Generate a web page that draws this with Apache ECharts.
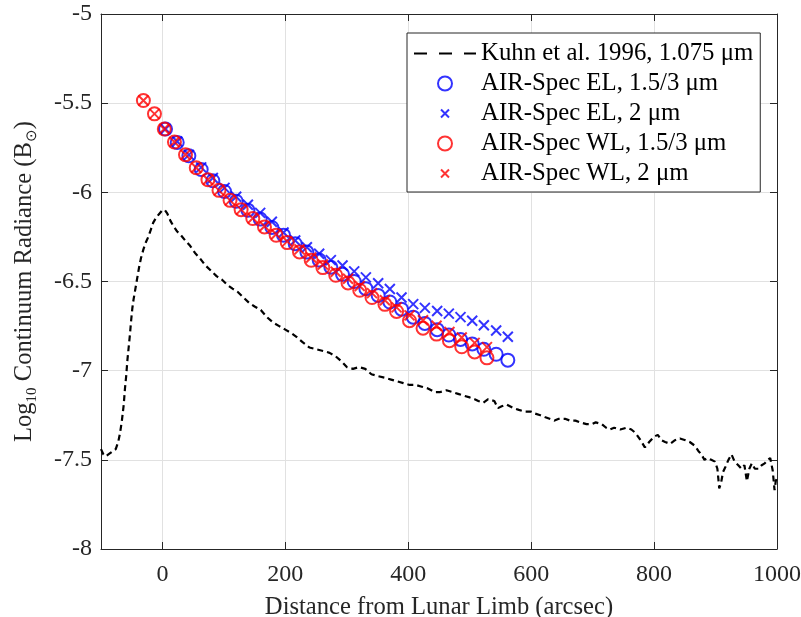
<!DOCTYPE html>
<html>
<head>
<meta charset="utf-8">
<script src="https://cdn.jsdelivr.net/npm/echarts@6/dist/echarts.min.js"></script>
<style>
html,body{margin:0;padding:0;background:#fff;}
#chart{width:801px;height:617px;}
</style>
</head>
<body>
<div id="chart"></div>
<script>
// ---------- DATA ----------
var xTicks = [0, 200, 400, 600, 800, 1000];
var seriesNames = [
  'Kuhn et al. 1996, 1.075 \u03bcm',
  'AIR-Spec EL, 1.5/3 \u03bcm',
  'AIR-Spec EL, 2 \u03bcm',
  'AIR-Spec WL, 1.5/3 \u03bcm',
  'AIR-Spec WL, 2 \u03bcm'
];

var kuhnX = [-100,-96,-92,-88,-84,-80,-76,-72,-69,-66,-63,-61,-59,-57,-55,-53,-51,-49,-47,-44,-41,-38,-35,-31,-27,-23,-19,-15,-10,-5,0,4,8,13,18,24,30,37,45,53,61,70,79,88,97,106,114,123,132,141,150,160,170,180,190,200,210,218,228,239,250,262,272,282,292,300,310,320,330,340,350,362,372,382,392,402,412,422,432,443,452,462,472,481,490,500,508,514,522,530,540,546,552,560,571,580,590,600,606,615,622,630,638,645,655,663,672,680,690,698,705,715,722,728,735,745,755,763,770,778,785,792,800,806,812,818,826,834,842,851,858,866,872,877,882,887,893,899,903,906,909,912,916,921,926,931,937,942,947,951,955,959,964,970,975,980,985,989,993,996,998,1000];
var kuhnY = [-7.44,-7.47,-7.48,-7.47,-7.46,-7.45,-7.44,-7.40,-7.35,-7.28,-7.19,-7.10,-7.03,-6.94,-6.87,-6.80,-6.72,-6.65,-6.60,-6.54,-6.48,-6.42,-6.37,-6.32,-6.28,-6.25,-6.21,-6.17,-6.14,-6.12,-6.10,-6.10,-6.12,-6.16,-6.19,-6.22,-6.24,-6.27,-6.30,-6.34,-6.37,-6.41,-6.44,-6.47,-6.49,-6.52,-6.54,-6.56,-6.59,-6.62,-6.64,-6.66,-6.70,-6.73,-6.75,-6.77,-6.79,-6.81,-6.84,-6.87,-6.88,-6.89,-6.90,-6.92,-6.95,-6.98,-6.99,-6.98,-6.99,-7.02,-7.03,-7.04,-7.05,-7.06,-7.07,-7.08,-7.08,-7.09,-7.10,-7.12,-7.12,-7.11,-7.12,-7.13,-7.14,-7.15,-7.16,-7.17,-7.18,-7.16,-7.17,-7.21,-7.20,-7.19,-7.21,-7.22,-7.23,-7.23,-7.24,-7.25,-7.26,-7.27,-7.28,-7.27,-7.27,-7.28,-7.28,-7.29,-7.30,-7.30,-7.29,-7.30,-7.32,-7.33,-7.32,-7.33,-7.32,-7.33,-7.35,-7.39,-7.43,-7.40,-7.37,-7.36,-7.39,-7.40,-7.41,-7.39,-7.38,-7.39,-7.40,-7.42,-7.45,-7.47,-7.50,-7.49,-7.50,-7.51,-7.55,-7.66,-7.63,-7.57,-7.54,-7.50,-7.47,-7.51,-7.53,-7.55,-7.53,-7.62,-7.55,-7.52,-7.55,-7.55,-7.53,-7.52,-7.50,-7.49,-7.56,-7.67,-7.62,-7.60];

var elX = [5,24,43,63,82,101,120,139,159,178,197,216,235,255,274,293,312,331,351,370,389,408,427,447,466,485,504,523,543,562];
var elCircleY = [-5.645,-5.72,-5.795,-5.872,-5.935,-5.995,-6.05,-6.10,-6.15,-6.197,-6.24,-6.288,-6.335,-6.38,-6.42,-6.46,-6.50,-6.54,-6.578,-6.615,-6.655,-6.70,-6.735,-6.77,-6.80,-6.825,-6.85,-6.88,-6.908,-6.941];
var elCrossY = [-5.645,-5.715,-5.79,-5.86,-5.92,-5.975,-6.025,-6.07,-6.115,-6.165,-6.225,-6.27,-6.308,-6.344,-6.38,-6.41,-6.443,-6.477,-6.51,-6.542,-6.59,-6.627,-6.648,-6.665,-6.68,-6.70,-6.72,-6.745,-6.775,-6.81];

var wlX = [-31,-13,3,19.5,37.5,55,74,92,110,128,147,166,185,203,223,242,261,282,302,321,341,362,381,402,424,446,467,487,508,528];
var wlCircleY = [-5.485,-5.56,-5.645,-5.718,-5.789,-5.862,-5.929,-5.989,-6.045,-6.097,-6.147,-6.194,-6.241,-6.282,-6.334,-6.381,-6.422,-6.465,-6.508,-6.549,-6.59,-6.628,-6.668,-6.72,-6.762,-6.795,-6.832,-6.866,-6.895,-6.928];
var wlCrossY = [-5.485,-5.56,-5.645,-5.718,-5.789,-5.862,-5.929,-5.989,-6.045,-6.097,-6.145,-6.19,-6.235,-6.275,-6.32,-6.365,-6.405,-6.445,-6.485,-6.525,-6.565,-6.605,-6.645,-6.69,-6.717,-6.748,-6.783,-6.814,-6.844,-6.868];

// ---------- CHART ----------
function zip(xs, ys) { return xs.map(function (x, i) { return [x, ys[i]]; }); }
var FONT = "'Liberation Serif','Times New Roman',serif";
var AX = '#262626';
var CROSS = 'path://M0,0 L10,10 M10,0 L0,10';
var CROSS_LEG = 'path://M0,0 M3,3 L11,11 M11,3 L3,11 M14,14';

function markerSeries(name, xs, ys, sym, size, color) {
  return {
    name: name, type: 'scatter', data: zip(xs, ys),
    symbol: sym, symbolSize: size,
    itemStyle: { color: 'rgba(0,0,0,0)', borderColor: color, borderWidth: 2 },
    emphasis: { disabled: true }, z: 3
  };
}

var chart = echarts.init(document.getElementById('chart'), null, { renderer: 'canvas' });
var commonX = { type: 'value', min: -100, max: 1000, gridIndex: 0 };
var option = {
  animation: false,
  backgroundColor: '#fff',
  textStyle: { fontFamily: FONT },
  grid: { left: 101, right: 24, top: 14, bottom: 68, containLabel: false, outerBoundsMode: 'none' },
  legend: {
    orient: 'vertical', left: 407, top: 33,
    padding: [8, 7, 6, 6],
    itemWidth: 62, itemHeight: 14, itemGap: 5,
    backgroundColor: '#fff', borderColor: AX, borderWidth: 1,
    textStyle: { fontFamily: FONT, fontSize: 24.8, color: '#000', lineHeight: 25 },
    lineStyle: { type: [13, 12] },
    data: [
      { name: seriesNames[0], itemStyle: { opacity: 0 } },
      { name: seriesNames[1] },
      { name: seriesNames[2], icon: CROSS_LEG },
      { name: seriesNames[3] },
      { name: seriesNames[4], icon: CROSS_LEG }
    ]
  },
  xAxis: [
    Object.assign({}, commonX, {
      position: 'bottom',
      name: 'Distance from Lunar Limb (arcsec)', nameLocation: 'middle', nameGap: 46,
      nameTextStyle: { fontFamily: FONT, fontSize: 24.6, color: AX },
      axisLine: { show: true, onZero: false, lineStyle: { color: AX, width: 1 } },
      axisTick: { show: true, inside: true, length: 7, customValues: xTicks, lineStyle: { color: AX } },
      axisLabel: { show: true, customValues: xTicks, margin: 14, fontFamily: FONT, fontSize: 24, color: AX,
                   formatter: function (v) { return String(v); } },
      splitLine: { show: true, customValues: xTicks, lineStyle: { color: '#e1e1e1', width: 1 } }
    }),
    Object.assign({}, commonX, {
      position: 'top',
      axisLine: { show: true, onZero: false, lineStyle: { color: AX, width: 1 } },
      axisTick: { show: true, inside: true, length: 7, customValues: xTicks, lineStyle: { color: AX } },
      axisLabel: { show: false },
      splitLine: { show: false }
    })
  ],
  yAxis: [
    {
      type: 'value', min: -8, max: -5, interval: 0.5, position: 'left',
      name: '{a|Log}{s|10}{a| Continuum Radiance (B}{s|\u2299}{a|)}',
      nameLocation: 'middle', nameGap: 61, nameRotate: 90,
      nameTextStyle: {
        fontFamily: FONT, fontSize: 24.6, color: AX,
        rich: {
          a: { fontFamily: FONT, fontSize: 24.6, color: AX, lineHeight: 30 },
          s: { fontFamily: FONT, fontSize: 15, color: AX, lineHeight: 15, verticalAlign: 'bottom' }
        }
      },
      axisLine: { show: true, onZero: false, lineStyle: { color: AX, width: 1 } },
      axisTick: { show: true, inside: true, length: 7, lineStyle: { color: AX } },
      axisLabel: { show: true, margin: 9, fontFamily: FONT, fontSize: 24, color: AX },
      splitLine: { show: true, lineStyle: { color: '#e1e1e1', width: 1 } }
    },
    {
      type: 'value', min: -8, max: -5, interval: 0.5, position: 'right',
      axisLine: { show: true, onZero: false, lineStyle: { color: AX, width: 1 } },
      axisTick: { show: true, inside: true, length: 7, lineStyle: { color: AX } },
      axisLabel: { show: false },
      splitLine: { show: false }
    }
  ],
  series: [
    {
      name: seriesNames[0], type: 'line', data: zip(kuhnX, kuhnY),
      symbol: 'none', showSymbol: false,
      lineStyle: { color: '#000', width: 2.2, type: [6, 4] },
      itemStyle: { color: '#000' },
      emphasis: { disabled: true }, z: 2
    },
    markerSeries(seriesNames[1], elX, elCircleY, 'circle', 13, '#0000ff'),
    markerSeries(seriesNames[2], elX, elCrossY, CROSS, 10, '#0000ff'),
    markerSeries(seriesNames[3], wlX, wlCircleY, 'circle', 13, '#ff0000'),
    markerSeries(seriesNames[4], wlX, wlCrossY, CROSS, 10, '#ff0000')
  ]
};
chart.setOption(option);
</script>
</body>
</html>
